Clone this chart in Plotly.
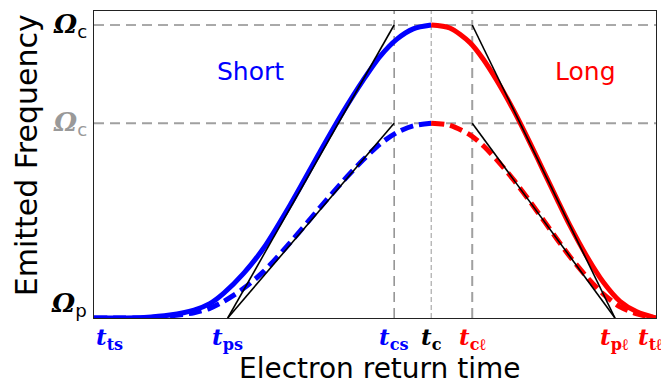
import plotly.graph_objects as go

# ---------------- data ----------------
t_short = [0, 8.9, 13.5, 17.8, 20.6, 23.1, 26.7, 30.2, 34.9, 40.2, 44.3, 47.9, 50.9, 53.9, 56.8, 60.0]
w_short_strong = [0, 0.002, 0.010, 0.027, 0.049, 0.085, 0.154, 0.239, 0.386, 0.567, 0.703, 0.812, 0.893, 0.952, 0.987, 1.0]
w_short_weak = [0, 0.001, 0.007, 0.018, 0.033, 0.057, 0.102, 0.159, 0.257, 0.377, 0.467, 0.540, 0.594, 0.633, 0.656, 0.665]

t_long = [60.0, 63.3, 66.9, 69.2, 71.7, 74.6, 77.6, 80.2, 82.4, 84.7, 87.7, 90.6, 93.6, 96.6, 100.0]
w_long_strong = [1.0, 0.990, 0.940, 0.885, 0.810, 0.711, 0.597, 0.493, 0.405, 0.315, 0.210, 0.123, 0.057, 0.021, 0]
w_long_weak = [0.665, 0.658, 0.625, 0.589, 0.539, 0.473, 0.397, 0.328, 0.269, 0.209, 0.140, 0.082, 0.038, 0.014, 0]

# characteristic times (x tick positions)
t_ts, t_ps, t_cs, t_c, t_cl, t_pl, t_tl = 0.0, 23.8, 53.4, 60.0, 67.3, 92.7, 100.0
x_tick_vals = [t_ts, t_ps, t_cs, t_c, t_cl, t_pl, t_tl]
x_tick_text = ["<b><i>t</i></b><sub><b>ts</b></sub>", "<b><i>t</i></b><sub><b>ps</b></sub>",
               "<b><i>t</i></b><sub><b>cs</b></sub>", "<b><i>t</i></b><sub><b>c</b></sub>",
               "<b><i>t</i></b><sub><b>cℓ</b></sub>", "<b><i>t</i></b><sub><b>pℓ</b></sub>",
               "<b><i>t</i></b><sub><b>tℓ</b></sub>"]
x_tick_colors = ["#0000ff", "#0000ff", "#0000ff", "#000000", "#ff0000", "#ff0000", "#ff0000"]

# frequency levels (y tick positions)
omega_c_strong, omega_c_weak, omega_p = 1.0, 0.665, 0.0
y_tick_vals = [omega_c_strong, omega_c_weak, omega_p]
y_tick_text = ["Ω", "Ω", "Ω"]
y_tick_sub = ["c", "c", "p"]
y_tick_colors = ["#000000", "#999999", "#000000"]

BLUE = "#0000ff"
RED = "#ff0000"

fig = go.Figure()

# curves
fig.add_trace(go.Scatter(x=t_short, y=w_short_strong, mode="lines",
                         line=dict(color=BLUE, width=5, shape="spline", smoothing=0.8)))
fig.add_trace(go.Scatter(x=t_short, y=w_short_weak, mode="lines",
                         line=dict(color=BLUE, width=5, dash="13px,6px", shape="spline", smoothing=0.8)))
fig.add_trace(go.Scatter(x=t_long, y=w_long_strong, mode="lines",
                         line=dict(color=RED, width=5, shape="spline", smoothing=0.8)))
fig.add_trace(go.Scatter(x=t_long, y=w_long_weak, mode="lines",
                         line=dict(color=RED, width=5, dash="13px,6px", shape="spline", smoothing=0.8)))

# tangent lines
for xs, ys in [([t_ps, t_cs], [omega_p, omega_c_strong]),
               ([t_ps, t_cs], [omega_p, omega_c_weak]),
               ([t_cl, t_pl], [omega_c_strong, omega_p]),
               ([t_cl, t_pl], [omega_c_weak, omega_p])]:
    fig.add_trace(go.Scatter(x=xs, y=ys, mode="lines", line=dict(color="black", width=1.6)))

# reference dashed lines
shapes = [
    dict(type="line", xref="paper", x0=0, x1=1, yref="y", y0=omega_c_strong, y1=omega_c_strong,
         line=dict(color="#555555", width=1, dash="10px,6px"), layer="below"),
    dict(type="line", xref="paper", x0=0, x1=1, yref="y", y0=omega_c_weak, y1=omega_c_weak,
         line=dict(color="#a0a0a0", width=2, dash="10px,6px"), layer="below"),
    dict(type="line", xref="x", x0=t_cs, x1=t_cs, yref="paper", y0=0, y1=1,
         line=dict(color="#555555", width=1, dash="10px,6px"), layer="below"),
    dict(type="line", xref="x", x0=t_c, x1=t_c, yref="paper", y0=0, y1=1,
         line=dict(color="#999999", width=1, dash="5px,3px"), layer="below"),
    dict(type="line", xref="x", x0=t_cl, x1=t_cl, yref="paper", y0=0, y1=1,
         line=dict(color="#a0a0a0", width=2, dash="10px,6px"), layer="below"),
]

annotations = []
# x tick labels
for i, (xv, txt, col) in enumerate(zip(x_tick_vals, x_tick_text, x_tick_colors)):
    a = dict(x=xv, xref="x", y=0, yref="paper", text=txt, showarrow=False,
             font=dict(family="DejaVu Serif", size=23, color=col),
             xanchor="center", yanchor="top", yshift=-3)
    if i == 0:
        a["xanchor"] = "left"
        a["xshift"] = 0
    if i == len(x_tick_vals) - 1:
        a["xshift"] = -6
    annotations.append(a)

# y tick labels
for yv, txt, sub, col in zip(y_tick_vals, y_tick_text, y_tick_sub, y_tick_colors):
    a = dict(x=0, xref="paper", y=yv, yref="y",
             text=f"<b><i>{txt}</i></b><sub><span style='font-family:DejaVu Sans'>{sub}</span></sub>",
             showarrow=False, font=dict(family="DejaVu Serif", size=26, color=col),
             xanchor="right", yanchor="middle", xshift=-5)
    if yv == omega_p:
        a["yshift"] = 14
    annotations.append(a)

# region labels
annotations.append(dict(x=27.8, y=0.84, xref="x", yref="y", text="Short", showarrow=False,
                        font=dict(family="DejaVu Sans", size=25, color=BLUE)))
annotations.append(dict(x=87.5, y=0.84, xref="x", yref="y", text="Long", showarrow=False,
                        font=dict(family="DejaVu Sans", size=25, color=RED)))

# axis titles
annotations.append(dict(x=0, xref="paper", y=0.53, yref="paper", text="Emitted Frequency",
                        showarrow=False, textangle=-90, xshift=-68,
                        font=dict(family="DejaVu Sans", size=30, color="black"),
                        xanchor="center", yanchor="middle"))
annotations.append(dict(x=0.509, xref="paper", y=0, yref="paper", text="Electron return time",
                        showarrow=False, yshift=-50,
                        font=dict(family="DejaVu Sans", size=28, color="black"),
                        xanchor="center", yanchor="middle"))

fig.update_layout(
    width=661, height=383,
    margin=dict(l=94, r=5, t=11, b=65),
    paper_bgcolor="white", plot_bgcolor="white",
    showlegend=False,
    shapes=shapes,
    annotations=annotations,
    xaxis=dict(range=[0, 100], showgrid=False, zeroline=False, showticklabels=False, ticks="",
               showline=True, mirror=True, linecolor="#222222", linewidth=1.2),
    yaxis=dict(range=[0, 1.0478], showgrid=False, zeroline=False, showticklabels=False, ticks="",
               showline=True, mirror=True, linecolor="#222222", linewidth=1.2),
)

fig.write_html("out.html")
